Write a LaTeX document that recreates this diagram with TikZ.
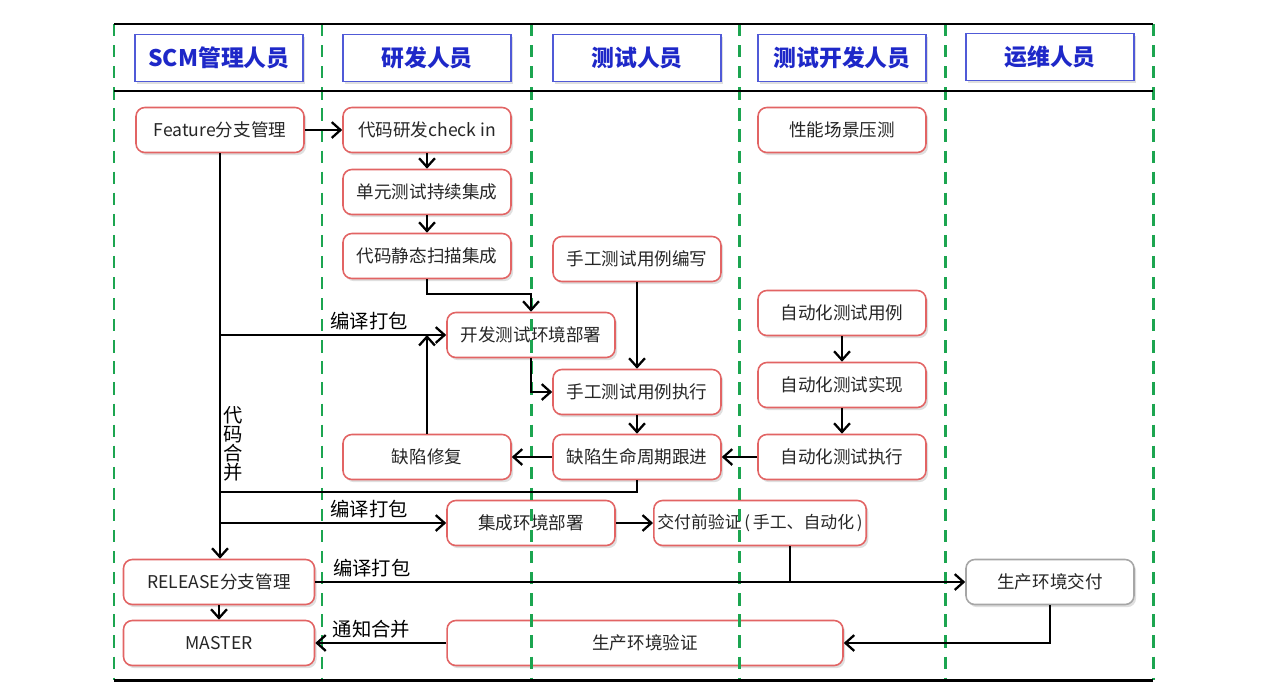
\documentclass[tikz,border=0pt]{standalone}
\usepackage{fontspec}
\setmainfont{Noto Sans CJK SC}
\usepackage{tikz}
\usepackage{xcolor}
\usetikzlibrary{arrows.meta, shadows}
\definecolor{lanegreen}{RGB}{28, 165, 80}
\definecolor{roleblue}{RGB}{80, 90, 215}
\definecolor{roletext}{RGB}{30, 40, 200}
\definecolor{taskred}{RGB}{226, 100, 100}

\begin{document}
\begin{tikzpicture}[
    x=0.02cm, y=-0.02cm,
    line width=1.3pt,
    font=\fontsize{10}{12}\selectfont,
    role/.style={draw=roleblue, line width=0.9pt, fill=white,
        minimum width=3.36cm, minimum height=0.94cm,
        font=\fontsize{13}{15}\selectfont\bfseries, text=roletext,
        drop shadow={shadow xshift=1pt, shadow yshift=-1.2pt, opacity=0.25}},
    task/.style={draw=taskred, line width=0.9pt, fill=white, rounded corners=5pt,
        minimum width=3.36cm, minimum height=0.9cm, text=black!85,
        drop shadow={shadow xshift=1.2pt, shadow yshift=-1.5pt, opacity=0.25}},
    tag/.style={font=\fontsize{11}{11}\selectfont, inner sep=2pt},
    flow/.style={-{Straight Barb[length=5pt, width=9pt]}},
    lane/.style={lanegreen, line width=1.7pt, dash pattern=on 7pt off 5pt},
    rule/.style={black, line width=1.7pt}
]
    \useasboundingbox (0,0) rectangle (1271,694);

    % ==========================================
    % ROLES (header row)
    % ==========================================
    \node[role] (scm)   at (219,58)  {SCM管理人员};
    \node[role] (dev)   at (427,58)  {研发人员};
    \node[role] (qa)    at (637,58)  {测试人员};
    \node[role] (qadev) at (842,58)  {测试开发人员};
    \node[role] (ops)   at (1050,57) {运维人员};

    % ==========================================
    % TASKS
    % ==========================================
    % SCM column
    \node[task] (feat) at (220,130) {Feature分支管理};
    \node[task, minimum width=3.82cm] (release) at (219,582) {RELEASE分支管理};
    \node[task, minimum width=3.82cm] (master)  at (219,643) {MASTER};

    % Developer column
    \node[task] (ckin) at (427,130) {代码研发check in};
    \node[task] (unit) at (427,192) {单元测试持续集成};
    \node[task] (scan) at (427,256) {代码静态扫描集成};
    \node[task] (fix)  at (427,457) {缺陷修复};

    % Tester column
    \node[task] (mwrite) at (637,259) {手工测试用例编写};
    \node[task] (mrun)   at (637,392) {手工测试用例执行};
    \node[task] (track)  at (637,457) {缺陷生命周期跟进};

    % Test developer column
    \node[task] (perf)  at (842,130) {性能场景压测};
    \node[task] (acase) at (842,313) {自动化测试用例};
    \node[task] (aimpl) at (842,385) {自动化测试实现};
    \node[task] (arun)  at (842,457) {自动化测试执行};

    % Spanning boxes
    \node[task] (devenv) at (531,335) {开发测试环境部署};
    \node[task] (intenv) at (531,523) {集成环境部署};
    \node[task, minimum width=4.22cm, inner xsep=2pt, font=\fontsize{9.6}{12}\selectfont] (prever)
        at (760,523) {交付前验证\,(\,手工、自动化\,)};
    \node[task, minimum width=7.92cm] (prodver) at (645,643) {生产环境验证};

    % Ops column
    \node[task, draw=black!35] (prod) at (1050,582) {生产环境交付};

    % ==========================================
    % SWIMLANES
    % ==========================================
    \foreach \x in {114,322,531,739,945,1153}
        \draw[lane] (\x,24) -- (\x,680);
    \draw[rule] (114,24) -- (1153,24);
    \draw[rule] (114,91) -- (1153,91);
    \draw[rule] (114,680) -- (1153,680);

    % ==========================================
    % FLOWS
    % ==========================================
    \draw[flow] (feat) -- (ckin);
    \draw[flow] (ckin) -- (unit);
    \draw[flow] (unit) -- (scan);
    \draw[flow] (scan.south) -- ++(0,15) -| (devenv.north);

    % trunk: feature branch down to release
    \draw[flow] (feat.south) -- (feat.south |- release.north);
    \node[tag, align=center, font=\fontsize{11}{10.8}\selectfont] (mergelabel) at (233,444) {代\\码\\合\\并};

    \draw[flow] (feat.south |- devenv.west) -- (devenv.west)
        node[tag, above, pos=0.66] {编译打包};
    \draw[flow] (fix.north) -- (fix.north |- devenv.west);
    \draw[flow] (devenv.south) |- (mrun.west);
    \draw[flow] (mwrite) -- (mrun);
    \draw[flow] (mrun) -- (track);
    \draw[flow] (track) -- (fix);
    \draw[flow] (arun) -- (track);
    \draw[flow] (acase) -- (aimpl);
    \draw[flow] (aimpl) -- (arun);

    \coordinate (merge) at (220,492);
    \draw (track.south) |- (merge);

    \draw[flow] (feat.south |- intenv.west) -- (intenv.west)
        node[tag, above, pos=0.66] {编译打包};
    \draw[flow] (intenv) -- (prever);

    \draw[flow] (release) -- (prod)
        node[tag, above, pos=0.087] {编译打包};
    \draw ([xshift=0.6cm]prever.south) -- ([xshift=0.6cm]prever.south |- release.east);

    \draw[flow] (release) -- (master);
    \draw[flow] (prod.south) |- (prodver.east);
    \draw[flow] (prodver) -- (master)
        node[tag, above, pos=0.57] {通知合并};

\end{tikzpicture}
\end{document}
